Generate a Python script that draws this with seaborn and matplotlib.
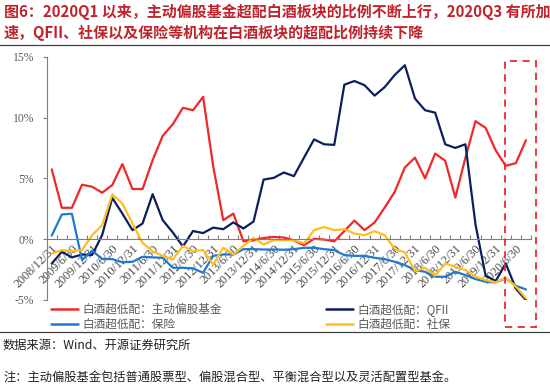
import numpy as np
import pandas as pd
import matplotlib
matplotlib.use("Agg")
import matplotlib.pyplot as plt
import seaborn as sns
from matplotlib.lines import Line2D
from matplotlib.patches import Rectangle

# ---------------- data ----------------
dates = [
    "2008/12/31", "2009/3/31", "2009/6/30", "2009/9/30", "2009/12/31", "2010/3/31",
    "2010/6/30", "2010/9/30", "2010/12/31", "2011/3/31", "2011/6/30", "2011/9/30",
    "2011/12/31", "2012/3/31", "2012/6/30", "2012/9/30", "2012/12/31", "2013/3/31",
    "2013/6/30", "2013/9/30", "2013/12/31", "2014/3/31", "2014/6/30", "2014/9/30",
    "2014/12/31", "2015/3/31", "2015/6/30", "2015/9/30", "2015/12/31", "2016/3/31",
    "2016/6/30", "2016/9/30", "2016/12/31", "2017/3/31", "2017/6/30", "2017/9/30",
    "2017/12/31", "2018/3/31", "2018/6/30", "2018/9/30", "2018/12/31", "2019/3/31",
    "2019/6/30", "2019/9/30", "2019/12/31", "2020/3/31", "2020/6/30", "2020/9/30",
]

fund = [5.74, 2.58, 2.58, 4.48, 4.31, 3.82, 4.45, 6.18, 4.12, 4.12, 6.5, 8.5,
        9.45, 10.8, 10.6, 11.7, 6.0, 1.56, 2.1, -0.18, -0.1, 0.1, 0.18, 0.14,
        -0.1, -0.5, 0.03, -0.03, -0.18, 0.67, 1.53, 0.74, 1.37, 2.6, 3.9, 5.9,
        6.7, 5.0, 7.04, 6.44, 3.42, 6.7, 9.7, 9.15, 7.3, 6.03, 6.25, 8.14]

qfii = [-2.0, -1.04, -1.5, -1.26, -1.3, 0.35, 3.4, 2.1, 0.74, 1.29, 3.7, 1.56,
        0.55, -0.6, 0.67, 0.5, 0.95, 0.82, 1.38, 0.88, 1.45, 4.9, 5.04, 5.48,
        5.18, 6.7, 8.2, 7.8, 7.75, 12.7, 13.0, 12.66, 11.8, 12.5, 13.5, 14.3,
        11.56, 10.6, 10.4, 7.8, 7.5, 7.8, 1.2, -3.0, -3.44, -2.0, -4.07, -5.0]

insurance = [0.3, 2.03, 2.09, -1.72, -0.95, -1.62, -1.64, -1.9, -1.86, -1.45, -1.5, -1.53,
             -2.35, -2.35, -2.4, -2.76, -1.37, -1.26, -1.26, -0.82, -0.82, -0.85, -0.85, -0.87,
             -0.82, -0.71, -0.71, -0.82, -0.9, -1.31, -1.37, -1.37, -1.53, -1.64, -1.86, -2.13,
             -2.54, -2.68, -3.09, -3.09, -2.68, -2.95, -3.28, -3.5, -3.55, -3.22, -3.83, -4.13]

ssf = [-1.2, -0.9, -0.98, -0.9, 0.33, 1.15, 3.68, 2.94, 1.29, -0.3, -1.0, -1.37,
       -1.67, -0.55, -0.98, -0.9, -2.08, -0.71, -1.26, -0.55, 0.1, -0.44, -0.08, -0.08,
       -0.08, -0.35, 0.74, 1.0, 0.74, 0.82, 0.46, 0.33, 0.66, 0.33, -0.82, -1.09,
       -2.62, -2.35, -3.0, -2.0, -2.27, -2.54, -3.09, -3.36, -3.55, -3.17, -3.9, -4.86]

series_names = ["白酒超低配：主动偏股基金", "白酒超低配：QFII", "白酒超低配：保险", "白酒超低配：社保"]
series_values = [fund, qfii, insurance, ssf]
colors = ["#F02828", "#0B1F5E", "#1F78D1", "#FFBE1E"]

title_lines = ["图6：2020Q1 以来，主动偏股基金超配白酒板块的比例不断上行，2020Q3 有所加",
               "速，QFII、社保以及保险等机构在白酒板块的超配比例持续下降"]
source_text = "数据来源：Wind、开源证券研究所"
note_text = "注：主动偏股基金包括普通股票型、偏股混合型、平衡混合型以及灵活配置型基金。"

# ---------------- build ----------------
rows = []
for name, vals in zip(series_names, series_values):
    for i, v in enumerate(vals):
        rows.append({"idx": i, "val": v, "series": name})
df = pd.DataFrame(rows)

sns.set_theme(style="white")
plt.rcParams["font.family"] = ["Noto Sans CJK SC", "DejaVu Sans"]

W, H = 550, 385
fig = plt.figure(figsize=(W / 100, H / 100), dpi=100)
ax = fig.add_axes([46.7 / W, 1 - 300 / H, (531 - 46.7) / W, (300 - 56.7) / H])

palette = dict(zip(series_names, colors))
sns.lineplot(data=df, x="idx", y="val", hue="series", hue_order=series_names,
             palette=palette, linewidth=1.6, legend=False, ax=ax, sort=False)

ax.set_xlim(-0.5, len(dates) - 0.5)
ax.set_ylim(-5, 15)
ax.set_xlabel("")
ax.set_ylabel("")

gray = "#7F7F7F"
txtgray = "#595959"
serif = ["Liberation Serif", "DejaVu Serif"]

for s in ["top", "right"]:
    ax.spines[s].set_visible(False)
ax.spines["left"].set_color(gray)
ax.spines["left"].set_linewidth(0.8)
ax.spines["bottom"].set_position(("data", 0))
ax.spines["bottom"].set_color(gray)
ax.spines["bottom"].set_linewidth(0.8)

yt = [-5, 0, 5, 10, 15]
ax.set_yticks(yt)
ax.set_yticklabels([f"{v}%" for v in yt], fontfamily=serif, fontsize=8.4, color=txtgray)
ax.tick_params(axis="y", direction="out", length=3, width=0.8, color=gray, pad=6, left=True)

ax.set_xticks(np.arange(len(dates))[::2])
ax.set_xticklabels(dates[::2], rotation=45, ha="right", va="top", rotation_mode="anchor",
                   fontfamily=serif, fontsize=8.8, color="#4A4A4A")
ax.set_xticks(np.arange(-0.5, len(dates), 1), minor=True)
ax.tick_params(axis="x", which="major", length=0, pad=2.5, bottom=True)
ax.tick_params(axis="x", which="minor", direction="in", length=3, width=0.8, color=gray, bottom=True)
ax.grid(False)

# title
title_color = "#C0232B"
fig.text(4 / W, 1 - 12 / H, title_lines[0], fontsize=10.8, fontweight="bold",
         color=title_color, ha="left", va="center")
fig.text(4 / W, 1 - 33 / H, title_lines[1], fontsize=10.8, fontweight="bold",
         color=title_color, ha="left", va="center")
fig.add_artist(Line2D([0, 1], [1 - 44.5 / H, 1 - 44.5 / H], color="#404040", lw=0.9,
                      transform=fig.transFigure))

# legend
handles = [Line2D([], [], color=c, lw=1.8) for c in colors]
order = [0, 2, 1, 3]
leg = fig.legend([handles[k] for k in order], [series_names[k] for k in order],
                 ncol=2, loc="upper left", bbox_to_anchor=(51 / W, 1 - 303 / H),
                 frameon=False, fontsize=8.4, handlelength=2.3, handletextpad=0.35,
                 columnspacing=9.0, labelspacing=0.15, borderpad=0, borderaxespad=0)
for t in leg.get_texts():
    t.set_color(txtgray)

fig.add_artist(Line2D([0, 1], [1 - 332 / H, 1 - 332 / H], color="#404040", lw=0.9,
                      transform=fig.transFigure))

fig.text(3 / W, 1 - 345 / H, source_text, fontsize=8.8, color="#222222", ha="left", va="center")
fig.text(3 / W, 1 - 377 / H, note_text, fontsize=8.8, color="#222222", ha="left", va="center")

# dashed highlight box
fig.add_artist(Rectangle((505 / W, 1 - 327 / H), 31 / W, (327 - 60.7) / H,
                         transform=fig.transFigure, fill=False, edgecolor="#F02828",
                         lw=1.3, linestyle=(0, (4, 3))))

fig.savefig("out.png", dpi=100)
